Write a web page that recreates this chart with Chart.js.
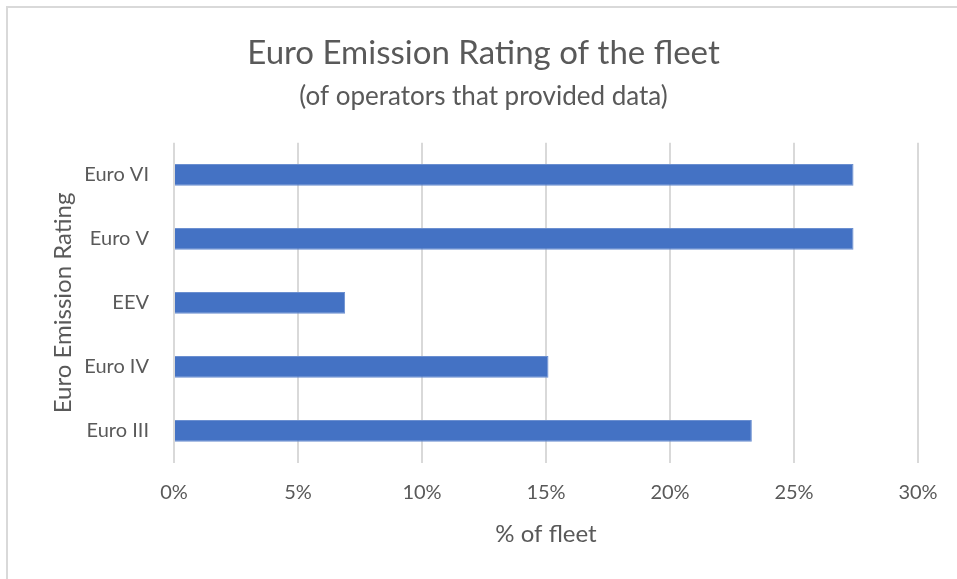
<!DOCTYPE html>
<html>
<head>
<meta charset="utf-8">
<script src="https://cdn.jsdelivr.net/npm/chart.js@4/dist/chart.umd.min.js"></script>
<style>
  html, body { margin: 0; padding: 0; background: #fff; overflow: hidden; }
  #frame {
    position: absolute; left: 6px; top: 6px; width: 960px; height: 580px;
    border-top: 2px solid #d9d9d9; border-left: 2px solid #d9d9d9;
  }
  #chart { position: absolute; left: 0; top: 0; }
</style>
</head>
<body>
<div id="frame"></div>
<canvas id="chart" width="957" height="579"></canvas>
<script>
// Chart data
const categories = ['Euro VI', 'Euro V', 'EEV', 'Euro IV', 'Euro III'];
const fleetShare = [27.4, 27.4, 6.9, 15.1, 23.3];
const xTicks = [0, 5, 10, 15, 20, 25, 30];

const TEXT_COLOR = '#595959';
const FONT = 'Lato, "Open Sans", sans-serif';

new Chart(document.getElementById('chart'), {
  type: 'bar',
  data: {
    labels: categories,
    datasets: [{
      label: '% of fleet',
      data: fleetShare,
      backgroundColor: '#4472c4',
      borderColor: '#6b8fd0',
      borderWidth: 1,
      categoryPercentage: 1,
      barPercentage: 0.34
    }]
  },
  options: {
    indexAxis: 'y',
    responsive: false,
    animation: false,
    layout: { padding: { left: 49, right: 39, top: 0, bottom: 30 } },
    plugins: {
      legend: { display: false },
      tooltip: { enabled: false },
      title: {
        display: true,
        text: 'Euro Emission Rating of the fleet',
        color: TEXT_COLOR,
        font: { family: FONT, size: 33, weight: 'normal', lineHeight: 1.2 },
        padding: { top: 34, bottom: 7 }
      },
      subtitle: {
        display: true,
        text: '(of operators that provided data)',
        color: TEXT_COLOR,
        font: { family: FONT, size: 26, weight: 'normal', lineHeight: 1.2 },
        padding: { top: 0, bottom: 31 }
      }
    },
    scales: {
      x: {
        min: 0,
        max: 30,
        afterBuildTicks: axis => { axis.ticks = xTicks.map(v => ({ value: v })); },
        ticks: {
          color: TEXT_COLOR,
          font: { family: FONT, size: 20 },
          padding: 18,
          callback: v => v + '%'
        },
        grid: { color: '#d9d9d9', lineWidth: 2, drawTicks: false },
        border: { display: false },
        title: {
          display: true,
          text: '% of fleet',
          color: TEXT_COLOR,
          font: { family: FONT, size: 24 },
          padding: { top: 9, bottom: 0 }
        },
        afterFit: scale => { scale.height = 86; }
      },
      y: {
        grid: { display: false },
        border: { display: false },
        ticks: {
          color: TEXT_COLOR,
          font: { family: FONT, size: 20 },
          padding: 17
        },
        title: {
          display: true,
          text: 'Euro Emission Rating',
          color: TEXT_COLOR,
          font: { family: FONT, size: 24 },
          padding: 0
        },
        afterFit: scale => { scale.width = 125; }
      }
    }
  }
});
</script>
</body>
</html>
